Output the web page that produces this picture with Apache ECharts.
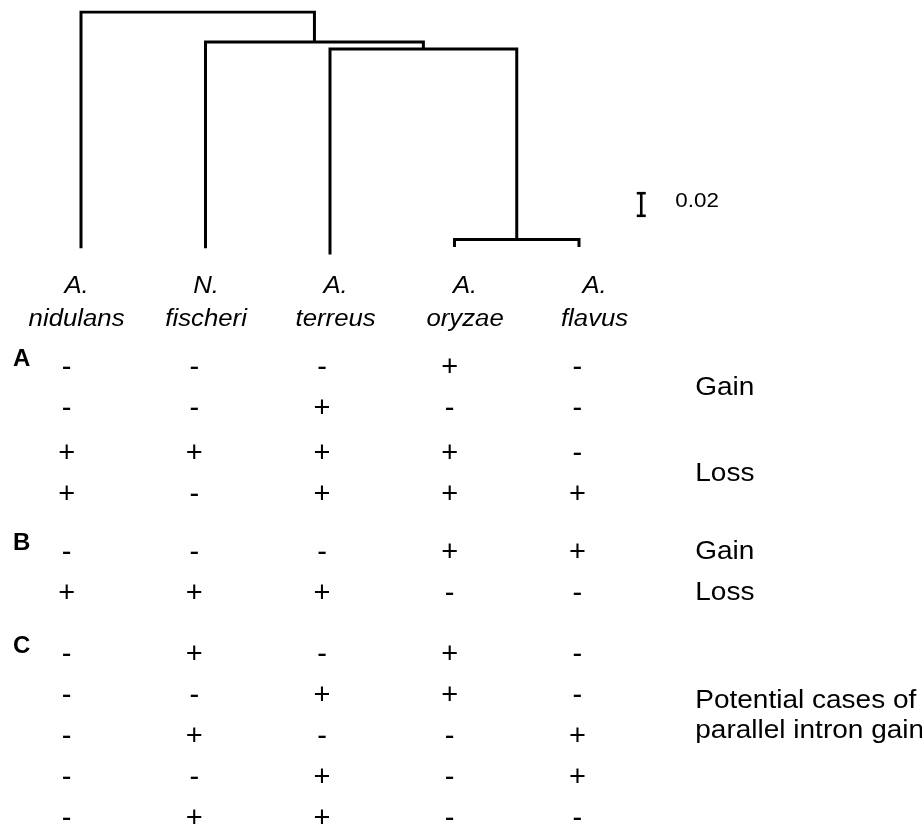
<!DOCTYPE html>
<html><head><meta charset="utf-8">
<script src="https://cdn.jsdelivr.net/npm/echarts/dist/echarts.min.js"></script>
<style>html,body{margin:0;padding:0;background:#fff}#c{width:922px;height:830px}</style>
</head><body><div id="c"></div>
<script>
// ---- data ----
const species = ['A. nidulans', 'N. fischeri', 'A. terreus', 'A. oryzae', 'A. flavus'];
const leafDepth = [0.189, 0.189, 0.194, 0.188, 0.188];
const cladeChildren = [[3, 4], [2, 'c0'], [1, 'c1'], [0, 'c2']];
const cladeDepth = [0.182, 0.0296, 0.024, 0];
const scaleBarStart = 0.144;
const scaleBarLength = 0.02;
const scaleBarLabel = '0.02';
const groupNames = ['A', 'B', 'C'];
const rowGroup = [0, 0, 0, 0, 1, 1, 2, 2, 2, 2, 2];
const rowSigns = [
  ['-', '-', '-', '+', '-'],
  ['-', '-', '+', '-', '-'],
  ['+', '+', '+', '+', '-'],
  ['+', '-', '+', '+', '+'],
  ['-', '-', '-', '+', '+'],
  ['+', '+', '+', '-', '-'],
  ['-', '+', '-', '+', '-'],
  ['-', '-', '+', '+', '-'],
  ['-', '+', '-', '-', '+'],
  ['-', '-', '+', '-', '+'],
  ['-', '+', '+', '-', '-']
];
const noteTexts = ['Gain', 'Loss', 'Gain', 'Loss', 'Potential cases of\nparallel intron gain'];
const noteRows = [[0, 1], [2, 3], [4], [5], [7, 8]];

// ---- layout helpers ----
const FONT = '"Liberation Sans", Arial, Helvetica, sans-serif';
const SX = 1.12; // horizontal stretch of the reference's lettering
const cladeX = [];
function childX(c) { return typeof c === 'number' ? c : cladeX[+c.slice(1)]; }
function childD(c) { return typeof c === 'number' ? leafDepth[c] : cladeDepth[+c.slice(1)]; }
cladeChildren.forEach((ch, k) => { cladeX[k] = (childX(ch[0]) + childX(ch[1])) / 2; });
const treePaths = cladeChildren.map((ch, k) => ({
  coords: [
    [childX(ch[0]), childD(ch[0])],
    [childX(ch[0]), cladeDepth[k]],
    [childX(ch[1]), cladeDepth[k]],
    [childX(ch[1]), childD(ch[1])]
  ]
}));
const rowPos = rowGroup.map((g, i) => i + 0.5 * g + (g === 0 && i >= 2 ? 0.1 : 0));
const signData = [], signText = [];
rowSigns.forEach((row, i) => row.forEach((s, j) => { signData.push([j, rowPos[i]]); signText.push(s); }));
const groupData = groupNames.map((g, k) => [-0.5, rowPos[rowGroup.indexOf(k)]]);
const noteData = noteRows.map(rs => [4.5, rs.reduce((a, r) => a + rowPos[r], 0) / rs.length]);
const speciesData = species.map((s, i) => [i, 0]);

function txt(x, y, text, font, align, extra) {
  return Object.assign({ type: 'text', x: x, y: y, scaleX: SX,
    style: { text: text, fill: '#000', font: font, textAlign: align, textVerticalAlign: 'middle' } }, extra || {});
}

const chart = echarts.init(document.getElementById('c'));
chart.setOption({
  animation: false,
  backgroundColor: '#fff',
  grid: [
    { left: 18.75, width: 622.5, top: 12, height: 250 },
    { left: 2.75, width: 638.5, top: 368, height: 451 },
    { left: 11.85, width: 647.5, top: 270, height: 60 }
  ],
  xAxis: [
    { type: 'value', gridIndex: 0, min: -0.5, max: 4.5, show: false },
    { type: 'value', gridIndex: 1, min: -0.5, max: 4.5, show: false },
    { type: 'value', gridIndex: 2, min: -0.5, max: 4.5, show: false }
  ],
  yAxis: [
    { type: 'value', gridIndex: 0, min: 0, max: 0.2, inverse: true, show: false },
    { type: 'value', gridIndex: 1, min: 0, max: 11, inverse: true, show: false },
    { type: 'value', gridIndex: 2, min: 0, max: 1, inverse: true, show: false }
  ],
  series: [
    { type: 'lines', coordinateSystem: 'cartesian2d', xAxisIndex: 0, yAxisIndex: 0, polyline: true,
      lineStyle: { color: '#000', width: 3, opacity: 1, join: 'miter', cap: 'butt' }, silent: true,
      data: treePaths },
    { type: 'custom', coordinateSystem: 'cartesian2d', xAxisIndex: 0, yAxisIndex: 0, silent: true,
      data: [[4.5, scaleBarStart, scaleBarStart + scaleBarLength]],
      renderItem: (params, api) => {
        const a = api.coord([api.value(0), api.value(1)]);
        const b = api.coord([api.value(0), api.value(2)]);
        const st = { stroke: '#000', lineWidth: 2.6 };
        return { type: 'group', children: [
          { type: 'line', shape: { x1: a[0], y1: a[1], x2: b[0], y2: b[1] }, style: st },
          { type: 'line', shape: { x1: a[0] - 4.5, y1: a[1] + 1.2, x2: a[0] + 4.5, y2: a[1] + 1.2 }, style: st },
          { type: 'line', shape: { x1: b[0] - 4.5, y1: b[1] - 1.2, x2: b[0] + 4.5, y2: b[1] - 1.2 }, style: st },
          txt(a[0] + 34, (a[1] + b[1]) / 2 - 3, scaleBarLabel, '20px ' + FONT, 'left')
        ] };
      } },
    { type: 'custom', coordinateSystem: 'cartesian2d', xAxisIndex: 2, yAxisIndex: 2, silent: true,
      data: speciesData,
      renderItem: (params, api) => {
        const p = api.coord([api.value(0), api.value(1)]);
        return txt(p[0], p[1], species[params.dataIndex].replace(' ', '\n'), 'italic 23px ' + FONT, 'center',
          { style: { text: species[params.dataIndex].replace(' ', '\n'), fill: '#000', font: 'italic 23px ' + FONT,
            textAlign: 'center', textVerticalAlign: 'top', lineHeight: 33 } });
      } },
    { type: 'custom', coordinateSystem: 'cartesian2d', xAxisIndex: 1, yAxisIndex: 1, silent: true,
      data: signData,
      renderItem: (params, api) => {
        const p = api.coord([api.value(0), api.value(1)]);
        return txt(p[0], p[1], signText[params.dataIndex], '29px ' + FONT, 'center', { scaleX: 1 });
      } },
    { type: 'custom', coordinateSystem: 'cartesian2d', xAxisIndex: 1, yAxisIndex: 1, silent: true,
      data: groupData,
      renderItem: (params, api) => {
        const p = api.coord([api.value(0), api.value(1)]);
        return txt(p[0] + 19, p[1] - 9, groupNames[params.dataIndex], 'bold 24px ' + FONT, 'center', { scaleX: 1 });
      } },
    { type: 'custom', coordinateSystem: 'cartesian2d', xAxisIndex: 1, yAxisIndex: 1, silent: true,
      data: noteData,
      renderItem: (params, api) => {
        const p = api.coord([api.value(0), api.value(1)]);
        return txt(p[0] + 54, p[1], noteTexts[params.dataIndex], '25px ' + FONT, 'left',
          { style: { text: noteTexts[params.dataIndex], fill: '#000', font: '25px ' + FONT, lineHeight: 30,
            textAlign: 'left', textVerticalAlign: 'middle' } });
      } }
  ]
});
</script></body></html>
